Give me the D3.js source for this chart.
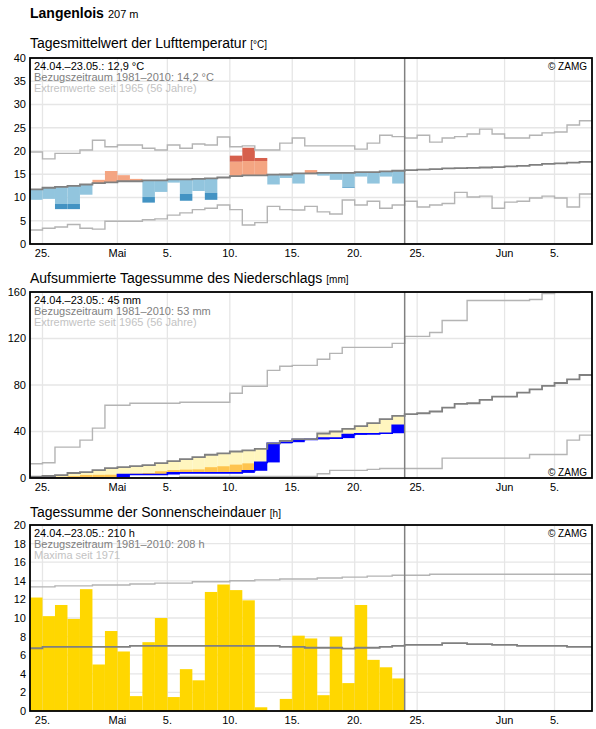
<!DOCTYPE html>
<html><head><meta charset="utf-8">
<script src="https://cdn.jsdelivr.net/npm/d3@7"></script>
<style>body{margin:0;background:#fff;} svg{display:block;font-family:Arial,"Liberation Sans",sans-serif;}</style>
</head><body><svg id="c" width="596" height="729"></svg>
<script>
// ---------- DATA ----------
const startDay = "2021-04-24";
const endDay = "2021-06-08";      // exclusive
const lastObsDay = "2021-05-24";  // end of observed period (start of 24.05.)

const tickDates = ["2021-04-25","2021-05-01","2021-05-05","2021-05-10","2021-05-15","2021-05-20","2021-05-25","2021-06-01","2021-06-05"];
const tickLabels = ["25.","Mai","5.","10.","15.","20.","25.","Jun","5."];

const tempTicks = [0,5,10,15,20,25,30,35,40];
const precipTicks = [0,40,80,120,160];
const sunTicks = [0,2,4,6,8,10,12,14,16,18,20];

// Temperature (°C), 24.04.–23.05.
const tempObs = [9.5,9.7,7.5,7.5,10.6,13.8,15.7,14.8,14.0,8.9,11.2,13.2,9.3,11.4,9.5,14.3,19.0,20.7,18.5,12.8,14.2,13.0,15.9,14.7,13.8,12.1,14.5,13.0,14.5,13.0];
const tempSigma = [3.9,3.9,3.7,3.9,3.8,3.7,3.7,3.6,3.6,3.6,3.5,3.4,3.15,3.2,3.1,3.1,3.1,3.1,3.1,3.1,3.1,3.0,3.0,3.0,3.0,3.0,3.0,3.0,3.0,3.0];
// 24.04.–07.06.
const tempNormal = [11.75,12.1,12.3,12.5,12.8,13.1,13.25,13.5,13.5,13.7,13.7,13.9,13.9,14.0,14.1,14.3,14.6,14.75,14.75,14.9,14.95,15.2,15.2,15.3,15.3,15.3,15.45,15.45,15.6,15.75,15.9,16.0,16.1,16.25,16.3,16.35,16.45,16.55,16.7,16.8,17.0,17.25,17.35,17.5,17.65];
const tempMax = [19.8,18.3,19.5,19.5,20.2,22.3,20.9,21.3,21.3,20.6,20.2,21.3,20.6,21.5,21.3,23.0,20.9,21.1,20.2,20.2,21.7,22.8,21.1,21.1,21.1,21.1,20.4,21.7,23.4,23.1,22.8,23.4,21.9,22.8,23.1,23.65,24.7,23.65,22.8,22.8,23.4,23.9,24.1,25.6,26.5];
const tempMin = [3.0,3.4,3.65,4.2,3.4,3.2,4.9,4.9,4.9,5.2,5.4,6.2,6.7,7.4,7.7,8.4,7.4,4.1,4.6,8.1,7.4,7.3,8.1,6.9,6.45,9.45,8.4,9.2,7.7,8.4,9.2,7.95,8.4,8.7,11.1,10.1,10.3,7.7,9.0,9.2,9.9,10.3,9.9,7.95,10.75];

// Precipitation, cumulative (mm)
const precipObs = [0,0,0,0,0,0,0,3.0,3.0,3.0,3.0,4.4,4.4,4.4,4.4,4.4,4.4,6.2,13.4,29.8,30.8,33.0,33.2,34.3,34.3,37.3,38.0,38.0,38.5,45.4];
const precipLow = [0.4,0.7,1.0,1.6,2.6,2.7,2.8,3.3,3.8,4.3,5.8,6.8,7.2,7.4,9.3,10.1,11.5,12.6,13.0,15.5,16.5,17.0,17.0,19.5,20.5,21.5,22.5,24.0,25.5,27.0];
const precipNormal = [1.1,1.7,2.5,4.3,5.1,6.8,8.5,9.4,10.3,11.1,12.8,14.6,16.3,18.0,20.0,21.1,22.8,23.7,25.0,29.7,32.0,33.4,33.4,38.3,40.0,42.3,44.6,47.2,50.6,53.4,54.9,55.7,57.2,60.6,63.7,64.3,67.2,70.0,70.0,73.4,76.3,79.2,81.7,84.9,88.6];
const precipMax = [12.3,13.1,26.6,26.6,32.6,42.9,62.6,62.6,64.3,64.3,64.3,64.3,65.2,65.2,65.2,65.2,72.9,78.9,78.9,92.6,96.1,96.9,96.9,102.1,107.2,112.4,112.4,112.4,112.4,115.8,121.8,121.8,125.2,135.5,135.5,152.7,152.7,152.7,152.7,152.7,153.5,158.7,159.5,159.5,163];
const precipMin = [0,0,0,0,0,0,0,0,0,0,0,0,1.4,1.4,1.4,1.4,1.4,1.4,1.4,1.4,1.4,1.4,1.4,3.6,6.6,6.6,6.6,7.4,8.2,8.2,8.2,8.2,8.2,17.1,17.1,17.1,17.1,17.1,17.1,17.1,20.2,20.2,20.2,32.6,36.9];

// Sunshine (h)
const sunObs = [12.2,10.2,11.4,9.9,13.1,5.0,8.6,6.4,1.6,7.4,10.0,1.5,4.5,3.3,12.8,13.6,13.0,11.9,0.4,0,1.3,8.1,7.8,1.7,8.0,3.0,11.4,5.5,4.7,3.5];
const sunNormal = [6.75,6.9,6.9,6.9,6.9,6.9,6.9,6.9,7.0,7.0,7.0,7.0,7.0,7.0,7.0,7.0,7.0,7.0,7.0,7.0,6.9,6.9,6.8,6.8,6.8,6.7,6.8,6.8,6.9,7.0,7.1,7.1,7.1,7.3,7.3,7.2,7.2,7.1,7.1,7.0,7.0,7.0,7.0,6.9,6.9];
const sunMax = [13.35,13.35,13.45,13.45,13.45,13.55,13.55,13.55,13.65,13.65,13.75,13.75,13.75,13.9,13.9,13.9,14.0,14.0,14.1,14.1,14.2,14.2,14.2,14.3,14.3,14.4,14.4,14.5,14.5,14.6,14.6,14.6,14.7,14.7,14.7,14.7,14.7,14.7,14.7,14.7,14.7,14.7,14.7,14.7,14.7];

const title = "Langenlois";
const elevation = "207 m";
const panelTitles = [["Tagesmittelwert der Lufttemperatur","[°C]"],["Aufsummierte Tagessumme des Niederschlags","[mm]"],["Tagessumme der Sonnenscheindauer","[h]"]];
const panelInfo = [
  ["24.04.–23.05.: 12,9 °C","Bezugszeitraum 1981–2010: 14,2 °C","Extremwerte seit 1965 (56 Jahre)"],
  ["24.04.–23.05.: 45 mm","Bezugszeitraum 1981–2010: 53 mm","Extremwerte seit 1965 (56 Jahre)"],
  ["24.04.–23.05.: 210 h","Bezugszeitraum 1981–2010: 208 h","Maxima seit 1971"]
];
const copyright = "© ZAMG";

// ---------- CHART ----------
const svg = d3.select("#c");
const parse = d3.utcParse("%Y-%m-%d");
const d0 = parse(startDay), d1 = parse(endDay);
const days = d3.utcDay.range(d0, d1);
const L = 30, R = 592;
const x = d3.scaleUtc().domain([d0, d1]).range([L, R]);
const nextDay = d => d3.utcDay.offset(d, 1);

const C = {grid:"#e6e6e6", normal:"#808080", ext:"#b4b4b4", info2:"#808080", info3:"#c3c3c3"};

svg.append("text").attr("x", 30).attr("y", 18).attr("font-size", 14).attr("font-weight", "bold").text(title)
  .append("tspan").attr("font-weight","normal").attr("font-size", 11).attr("dx", 4).text(elevation);

let clipId = 0;
function makePanel(top, bottom, maxV, ticks, titleY, idx) {
  const y = d3.scaleLinear().domain([0, maxV]).range([bottom, top]);
  const g = svg.append("g");
  g.append("text").attr("x", 30).attr("y", titleY).attr("font-size", 14).text(panelTitles[idx][0])
    .append("tspan").attr("font-size", 10).attr("dx", 4).text(panelTitles[idx][1]);
  // grid
  g.append("g").selectAll("line").data(ticks).join("line")
    .attr("x1", L).attr("x2", R).attr("y1", d => y(d)).attr("y2", d => y(d))
    .attr("stroke", C.grid).attr("stroke-width", 1.3);
  g.append("g").selectAll("line").data(tickDates).join("line")
    .attr("x1", d => x(parse(d))).attr("x2", d => x(parse(d))).attr("y1", top).attr("y2", bottom)
    .attr("stroke", C.grid).attr("stroke-width", 1.3);
  // axis labels
  g.append("g").selectAll("text").data(ticks).join("text")
    .attr("x", 26).attr("y", d => y(d)).attr("dy", "0.36em").attr("text-anchor", "end")
    .attr("font-size", 11).text(d => d);
  g.append("g").selectAll("text").data(tickDates).join("text")
    .attr("x", d => x(parse(d))).attr("y", bottom + 12.5).attr("text-anchor", "middle")
    .attr("font-size", 11).text((d, i) => tickLabels[i]);
  clipId++;
  svg.append("clipPath").attr("id", "clip" + clipId).append("rect")
    .attr("x", L).attr("y", top).attr("width", R - L).attr("height", bottom - top);
  const plot = g.append("g").attr("clip-path", `url(#clip${clipId})`);
  return {y, g, plot, top, bottom};
}

function stepLine(plot, y, vals, color, width) {
  const pts = vals.map((v, i) => [days[i], v]);
  pts.push([nextDay(days[vals.length - 1]), vals[vals.length - 1]]);
  plot.append("path").datum(pts)
    .attr("d", d3.line().x(d => x(d[0])).y(d => y(d[1])).curve(d3.curveStepAfter))
    .attr("fill", "none").attr("stroke", color).attr("stroke-width", width);
}
function band(plot, i, y, a, b, color) {
  plot.append("rect").attr("x", x(days[i])).attr("width", x(nextDay(days[i])) - x(days[i]))
    .attr("y", y(Math.max(a, b))).attr("height", Math.abs(y(a) - y(b))).attr("fill", color);
}
function finish(p, info, copyY) {
  p.g.append("line").attr("x1", x(parse(lastObsDay))).attr("x2", x(parse(lastObsDay)))
    .attr("y1", p.top).attr("y2", p.bottom).attr("stroke", "#808080").attr("stroke-width", 1.5);
  p.g.append("rect").attr("x", L).attr("y", p.top).attr("width", R - L).attr("height", p.bottom - p.top)
    .attr("fill", "none").attr("stroke", "#000").attr("stroke-width", 1.8);
  const cols = ["#000", C.info2, C.info3];
  info.forEach((t, i) => p.g.append("text").attr("x", 34).attr("y", p.top + 11.6 + i * 11)
    .attr("font-size", 11).attr("fill", cols[i]).text(t));
  p.g.append("text").attr("x", 587).attr("y", copyY).attr("text-anchor", "end")
    .attr("font-size", 10).text(copyright);
}

// Panel 1: temperature
const p1 = makePanel(58, 244, 40, tempTicks, 48, 0);
tempObs.forEach((o, i) => {
  const n = tempNormal[i], s = tempSigma[i];
  if (o < n) {
    band(p1.plot, i, p1.y, n, Math.max(o, n - s), "#92c5de");
    if (o < n - s) band(p1.plot, i, p1.y, n - s, o, "#4393c3");
  } else if (o > n) {
    band(p1.plot, i, p1.y, n, Math.min(o, n + s), "#f4a582");
    if (o > n + s) band(p1.plot, i, p1.y, n + s, o, "#d6604d");
  }
});
stepLine(p1.plot, p1.y, tempMax, C.ext, 1.4);
stepLine(p1.plot, p1.y, tempMin, C.ext, 1.4);
stepLine(p1.plot, p1.y, tempNormal, C.normal, 1.8);
finish(p1, panelInfo[0], 69.5);

// Panel 2: precipitation
const p2 = makePanel(292, 478, 160, precipTicks, 283, 1);
precipObs.forEach((o, i) => {
  const n = precipNormal[i];
  if (n > o) band(p2.plot, i, p2.y, o, n, "#fff6bf");
  const lo = Math.min(precipLow[i], n);
  if (o < lo) band(p2.plot, i, p2.y, o, lo, "#fec44f");
});
precipObs.forEach((o, i) => {
  const prev = i > 0 ? precipObs[i - 1] : 0;
  if (o - prev > 0.05) band(p2.plot, i, p2.y, prev, o, "#0000ff");
});
stepLine(p2.plot, p2.y, precipObs, "#0000ff", 1.6);
stepLine(p2.plot, p2.y, precipMax, C.ext, 1.4);
stepLine(p2.plot, p2.y, precipMin, C.ext, 1.4);
stepLine(p2.plot, p2.y, precipNormal, C.normal, 1.8);
finish(p2, panelInfo[1], 475.5);

// Panel 3: sunshine
const p3 = makePanel(525, 711, 20, sunTicks, 517, 2);
sunObs.forEach((o, i) => { if (o > 0) band(p3.plot, i, p3.y, 0, o, "#ffd700"); });
stepLine(p3.plot, p3.y, sunMax, C.ext, 1.4);
stepLine(p3.plot, p3.y, sunNormal, C.normal, 1.8);
finish(p3, panelInfo[2], 537);
</script></body></html>
